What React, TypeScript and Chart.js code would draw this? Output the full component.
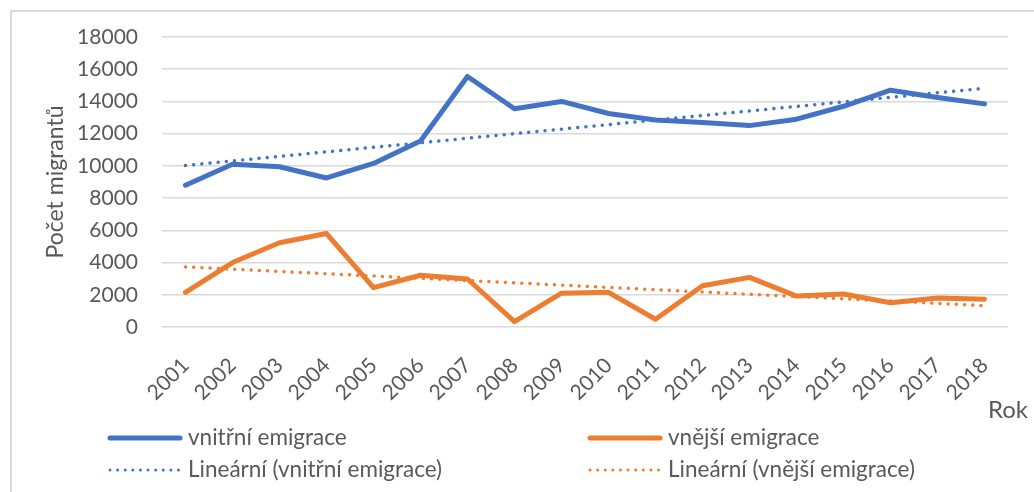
import React, { useEffect, useRef } from "react";
import { Chart, registerables } from "chart.js";

Chart.register(...registerables);

const years = ["2001", "2002", "2003", "2004", "2005", "2006", "2007", "2008", "2009", "2010", "2011", "2012", "2013", "2014", "2015", "2016", "2017", "2018"];
const internalEmigration = [8800, 10100, 9950, 9250, 10150, 11550, 15550, 13550, 14000, 13250, 12850, 12700, 12500, 12900, 13700, 14700, 14250, 13850];
const externalEmigration = [2150, 4000, 5230, 5800, 2440, 3210, 2980, 330, 2100, 2150, 480, 2560, 3080, 1920, 2050, 1510, 1800, 1720];
const yMin = 0;
const yMax = 18000;
const yStep = 2000;

const seriesLabels = ["vnitřní emigrace", "vnější emigrace", "Lineární (vnitřní emigrace)", "Lineární (vnější emigrace)"];
const BLUE = "#4472C4";
const ORANGE = "#ED7D31";
const TEXT = "#595959";
const FONT = "Lato, 'Noto Sans', sans-serif";

// Excel-style linear trendline (least squares) of a series
function linearTrend(values: number[]): number[] {
  const n = values.length;
  const mx = (n - 1) / 2;
  const my = values.reduce((a, b) => a + b, 0) / n;
  let num = 0;
  let den = 0;
  values.forEach((v, i) => {
    num += (i - mx) * (v - my);
    den += (i - mx) * (i - mx);
  });
  const slope = num / den;
  return values.map((_, i) => my + slope * (i - mx));
}

const legendPlugin = {
  id: "customLegend",
  afterDraw(chart: any) {
    const ctx = chart.ctx;
    const slots = [
      { idx: 0, x: 110, y: 438 },
      { idx: 1, x: 590, y: 438 },
      { idx: 2, x: 110, y: 470 },
      { idx: 3, x: 590, y: 470 },
    ];
    ctx.save();
    slots.forEach((s) => {
      const ds = chart.data.datasets[s.idx];
      ctx.beginPath();
      ctx.strokeStyle = ds.borderColor;
      ctx.lineWidth = s.idx < 2 ? ds.borderWidth : 3;
      ctx.lineCap = "round";
      ctx.setLineDash(s.idx < 2 ? [] : [0.01, 7.6]);
      ctx.moveTo(s.x, s.y);
      ctx.lineTo(s.x + 70, s.y);
      ctx.stroke();
      ctx.setLineDash([]);
      ctx.fillStyle = TEXT;
      ctx.font = `22.5px ${FONT}`;
      ctx.textAlign = "left";
      ctx.textBaseline = "middle";
      ctx.fillText(ds.label, s.x + 78, s.y);
    });
    // x axis title "Rok"
    ctx.font = `24px ${FONT}`;
    ctx.textAlign = "left";
    ctx.textBaseline = "middle";
    ctx.fillStyle = TEXT;
    ctx.fillText("Rok", chart.chartArea.right - 20, 410);
    ctx.restore();
  },
};

export default function App() {
  const ref = useRef<HTMLCanvasElement | null>(null);

  useEffect(() => {
    if (!ref.current) return;
    const chart = new Chart(ref.current, {
      type: "line",
      data: {
        labels: years,
        datasets: [
          {
            label: seriesLabels[0],
            data: internalEmigration,
            borderColor: BLUE,
            backgroundColor: BLUE,
            borderWidth: 5,
            pointRadius: 0,
            tension: 0,
            borderJoinStyle: "round",
            borderCapStyle: "round",
            order: 1,
          },
          {
            label: seriesLabels[1],
            data: externalEmigration,
            borderColor: ORANGE,
            backgroundColor: ORANGE,
            borderWidth: 5,
            pointRadius: 0,
            tension: 0,
            borderJoinStyle: "round",
            borderCapStyle: "round",
            order: 1,
          },
          {
            label: seriesLabels[2],
            data: linearTrend(internalEmigration),
            borderColor: BLUE,
            backgroundColor: BLUE,
            borderWidth: 3.5,
            borderDash: [0.01, 8.2],
            borderCapStyle: "round",
            pointRadius: 0,
            order: 0,
          },
          {
            label: seriesLabels[3],
            data: linearTrend(externalEmigration),
            borderColor: ORANGE,
            backgroundColor: ORANGE,
            borderWidth: 3.5,
            borderDash: [0.01, 8.2],
            borderCapStyle: "round",
            pointRadius: 0,
            order: 0,
          },
        ] as any,
      },
      options: {
        animation: false,
        responsive: false,
        maintainAspectRatio: false,
        layout: { padding: { left: 0, top: 37, right: 26, bottom: 0 } },
        plugins: {
          legend: { display: false },
          tooltip: { enabled: false },
        },
        scales: {
          x: {
            offset: true,
            grid: { display: false, drawTicks: false },
            border: { display: false },
            ticks: {
              color: TEXT,
              font: { family: FONT, size: 21 },
              minRotation: 45,
              maxRotation: 45,
              padding: 26,
              autoSkip: false,
            },
            afterFit: (scale: any) => {
              scale.height = 165;
            },
          },
          y: {
            min: yMin,
            max: yMax,
            grid: { color: "#d9d9d9", lineWidth: 1.5, drawTicks: false },
            border: { display: false },
            ticks: {
              stepSize: yStep,
              color: TEXT,
              font: { family: FONT, size: 21 },
              padding: 24,
              callback: (v: any) => String(v),
            },
            title: {
              display: true,
              text: "Počet migrantů",
              color: TEXT,
              font: { family: FONT, size: 23 },
              padding: { top: 42, bottom: 0 },
            },
            afterFit: (scale: any) => {
              scale.width = 162;
            },
          },
        },
      },
      plugins: [legendPlugin],
    });
    return () => chart.destroy();
  }, []);

  return (
    <div style={{ position: "absolute", left: 0, top: 0, width: 1034, height: 492, background: "#fff", overflow: "hidden" }}>
      <div
        style={{
          position: "absolute",
          left: 10,
          top: 10,
          width: 1040,
          height: 500,
          borderTop: "2px solid #d9d9d9",
          borderLeft: "2px solid #d9d9d9",
        }}
      />
      <canvas ref={ref} width={1034} height={492} style={{ position: "absolute", left: 0, top: 0, width: 1034, height: 492 }} />
    </div>
  );
}
